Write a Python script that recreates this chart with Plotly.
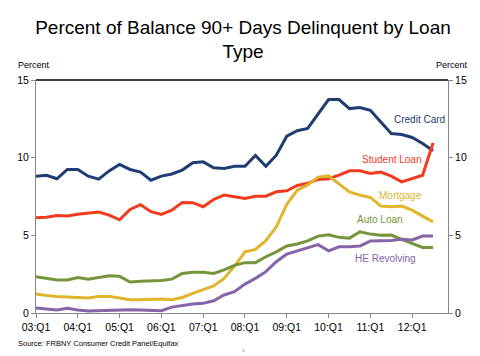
import plotly.graph_objects as go

years = ["03", "04", "05", "06", "07", "08", "09", "10", "11", "12"]
quarters = [f"{y}:Q{q}" for y in years for q in range(1, 5)][:39]
tick_labels = [f"{y}:Q1" for y in years]

credit_card = [8.81, 8.87, 8.64, 9.24, 9.24, 8.81, 8.62, 9.15, 9.56, 9.24,
               9.07, 8.55, 8.81, 8.95, 9.2, 9.67, 9.73, 9.35, 9.3, 9.45,
               9.45, 10.14, 9.45, 10.16, 11.38, 11.73, 11.88, 12.8, 13.74, 13.74,
               13.16, 13.23, 13.05, 12.3, 11.55, 11.49, 11.3, 10.91, 10.44]
student_loan = [6.13, 6.17, 6.28, 6.24, 6.35, 6.41, 6.5, 6.3, 6.0, 6.67,
                6.97, 6.52, 6.35, 6.62, 7.12, 7.1, 6.84, 7.31, 7.59, 7.48,
                7.37, 7.52, 7.52, 7.8, 7.87, 8.21, 8.35, 8.6, 8.64, 8.87,
                9.15, 9.15, 8.98, 9.07, 8.81, 8.44, 8.66, 8.87, 10.95]
mortgage = [1.22, 1.12, 1.07, 1.03, 0.97, 0.97, 1.07, 1.07, 0.97, 0.86,
            0.86, 0.9, 0.9, 0.85, 1.0, 1.26, 1.52, 1.74, 2.23, 3.02,
            3.94, 4.09, 4.65, 5.55, 7.0, 7.91, 8.25, 8.75, 8.83, 8.34,
            7.8, 7.59, 7.44, 6.88, 6.84, 6.88, 6.62, 6.24, 5.87]
auto_loan = [2.34, 2.25, 2.12, 2.12, 2.29, 2.17, 2.27, 2.4, 2.36, 1.99,
             2.04, 2.06, 2.1, 2.18, 2.55, 2.62, 2.62, 2.55, 2.77, 3.07,
             3.24, 3.24, 3.62, 3.94, 4.31, 4.44, 4.64, 4.95, 5.04, 4.87,
             4.82, 5.23, 5.08, 5.0, 5.02, 4.74, 4.48, 4.22, 4.22]
he_revolving = [0.32, 0.26, 0.19, 0.3, 0.19, 0.13, 0.15, 0.19, 0.21, 0.21,
                0.19, 0.15, 0.15, 0.38, 0.49, 0.58, 0.62, 0.79, 1.16, 1.37,
                1.86, 2.23, 2.66, 3.3, 3.79, 4.0, 4.19, 4.4, 4.0, 4.26,
                4.26, 4.31, 4.63, 4.65, 4.67, 4.74, 4.7, 4.95, 4.95]

series = [
    ("Credit Card", credit_card, "#1f3d73"),
    ("Student Loan", student_loan, "#f23b1f"),
    ("Mortgage", mortgage, "#e0b52c"),
    ("Auto Loan", auto_loan, "#76953a"),
    ("HE Revolving", he_revolving, "#8466a8"),
]
# label centres in page pixels
label_pos = {
    "Credit Card": (419, 119),
    "Student Loan": (392, 159),
    "Mortgage": (400, 195),
    "Auto Loan": (380, 220),
    "HE Revolving": (385, 258),
}

fig = go.Figure()
for name, vals, col in series:
    fig.add_trace(go.Scatter(x=quarters, y=vals, mode="lines", name=name,
                             line=dict(color=col, width=3), showlegend=False))
# invisible trace for right axis
fig.add_trace(go.Scatter(x=quarters, y=credit_card, yaxis="y2", mode="lines",
                         line=dict(width=0), opacity=0, showlegend=False,
                         hoverinfo="skip"))

OFF = 8  # default page body margin
W, H = 480 - OFF, 356 - OFF
L, R, T, B = 36 - OFF, 32, 80 - OFF, 43


def paper(px, py):
    fx, fy = px - OFF, py - OFF
    return (fx - L) / (W - L - R), (H - B - fy) / (H - T - B)


annotations = []
for name, vals, col in series:
    x, y = paper(*label_pos[name])
    annotations.append(dict(x=x, y=y, xref="paper", yref="paper",
                            xanchor="center", yanchor="middle", showarrow=False,
                            text=name, font=dict(size=10, color=col,
                                                 family="Liberation Sans, Arial")))

for txt, px, py, anchor, size, col in [
    ("Percent", 16, 65, "left", 9, "#000"),
    ("Percent", 470, 65, "right", 9, "#000"),
    ("Source: FRBNY Consumer Credit Panel/Equifax", 16, 343, "left", 7.5, "#000"),
    ("o", 243, 350, "center", 5, "#999"),
]:
    x, y = paper(px, py)
    annotations.append(dict(x=x, y=y, xref="paper", yref="paper", xanchor=anchor,
                            yanchor="middle", showarrow=False, text=txt,
                            font=dict(size=size, color=col,
                                      family="Liberation Sans, Arial")))

axis_common = dict(ticks="outside", ticklen=4, tickcolor="#888", showline=True,
                   linecolor="#888", linewidth=1, showgrid=False, zeroline=False,
                   automargin=False, tickfont=dict(size=10.5))

fig.update_layout(
    width=W, height=H,
    margin=dict(l=L, r=R, t=T, b=B, pad=0, autoexpand=False),
    paper_bgcolor="white", plot_bgcolor="white",
    title=dict(text="Percent of Balance 90+ Days Delinquent by Loan<br>Type",
               x=(243 - OFF) / W, xanchor="center",
               y=1 - (33.5 - OFF) / H, yanchor="middle",
               font=dict(size=19, color="#000", family="Liberation Sans, Arial")),
    font=dict(family="Liberation Sans, Arial", color="#000"),
    xaxis=dict(type="category", categoryorder="array", categoryarray=quarters,
               range=[0, 39.43], tickmode="array", tickvals=tick_labels,
               ticktext=tick_labels, **axis_common),
    yaxis=dict(range=[0, 15], tickvals=[0, 5, 10, 15], **axis_common),
    yaxis2=dict(range=[0, 15], tickvals=[0, 5, 10, 15], overlaying="y",
                side="right", **axis_common),
    annotations=annotations,
    shapes=[dict(type="line", xref="paper", yref="paper", x0=0, x1=1, y0=1, y1=1,
                 line=dict(color="#000", width=1.5))],
)

fig.write_html("out.html")
